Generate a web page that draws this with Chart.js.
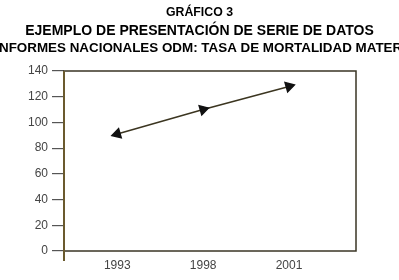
<!DOCTYPE html>
<html lang="es">
<head>
    <meta charset="UTF-8">
    <script src="https://cdn.jsdelivr.net/npm/chart.js"></script>
    <title>Gráfico 3</title>
    <style>
        body { margin: 0; background: #fff; }
    </style>
</head>
<body>
    <canvas id="myChart" width="399" height="280"></canvas>

    <script>
        // datos del gráfico
        const anios = ["1993", "1998", "2001"];
        const tasaMortalidad = [91, 110, 128];
        const ejeYMin = 0;
        const ejeYMax = 140;
        const ejeYPaso = 20;

        const titulo = [
            "GRÁFICO 3",
            "EJEMPLO DE PRESENTACIÓN DE SERIE DE DATOS",
            "INFORMES NACIONALES ODM: TASA DE MORTALIDAD MATERNA"
        ];

        // títulos dibujados sin ajustar el ancho (la última línea se corta como en el original)
        const titulos = {
            id: "titulos",
            afterDraw: function(chart) {
                const ctx = chart.ctx;
                const centro = chart.width / 2;
                const filas = [
                    { y: 13, size: 12.3 },
                    { y: 31, size: 14 },
                    { y: 48, size: 13.4 }
                ];
                ctx.save();
                ctx.fillStyle = "#000";
                ctx.textBaseline = "middle";
                titulo.forEach(function(t, i) {
                    ctx.font = "bold " + filas[i].size + "px 'Liberation Sans', Arial, sans-serif";
                    if (i === 2) {
                        // la primera letra queda fuera por la izquierda
                        ctx.textAlign = "left";
                        ctx.fillText(t, -ctx.measureText("I").width - 1, filas[i].y);
                    } else {
                        ctx.textAlign = "center";
                        ctx.fillText(t, centro, filas[i].y);
                    }
                });
                ctx.restore();
            }
        };

        // marco alrededor del área del gráfico
        const marco = {
            id: "marco",
            afterDraw: function(chart) {
                const a = chart.chartArea;
                const ctx = chart.ctx;
                ctx.save();
                ctx.strokeStyle = "#3a3524";
                ctx.lineWidth = 1.5;
                ctx.strokeRect(a.left, a.top, a.right - a.left, a.bottom - a.top);
                ctx.strokeStyle = "#6b5a2e";
                ctx.lineWidth = 2;
                ctx.beginPath();
                ctx.moveTo(a.left, a.top);
                ctx.lineTo(a.left, a.bottom + 10);
                ctx.stroke();
                ctx.restore();
            }
        };

        new Chart("myChart", {
            type: "line",
            data: {
                datasets: [{
                    data: tasaMortalidad.map(function(v, i) { return { x: i, y: v }; }),
                    borderColor: "#3b3520",
                    borderWidth: 1.5,
                    pointStyle: "triangle",
                    pointRadius: 5.5,
                    pointRotation: [-106, 74, 74],
                    pointBackgroundColor: "#111",
                    pointBorderColor: "#111",
                    tension: 0
                }]
            },
            options: {
                responsive: false,
                animation: false,
                layout: { padding: { left: 8, right: 43, top: 71, bottom: 0 } },
                plugins: {
                    legend: { display: false },
                    tooltip: { enabled: false },
                    title: { display: false }
                },
                scales: {
                    x: {
                        type: "linear",
                        min: -0.62,
                        max: 2.78,
                        afterBuildTicks: function(axis) {
                            axis.ticks = anios.map(function(_, i) { return { value: i }; });
                        },
                        afterFit: function(axis) { axis.height = 29; },
                        grid: { display: false, drawTicks: false },
                        border: { display: false },
                        ticks: {
                            padding: 7,
                            color: "#444",
                            font: { family: "Liberation Sans", size: 12 },
                            callback: function(v) { return anios[v]; }
                        }
                    },
                    y: {
                        min: ejeYMin,
                        max: ejeYMax,
                        afterFit: function(axis) { axis.width = 56; },
                        grid: {
                            drawOnChartArea: false,
                            tickLength: 12,
                            color: "#555",
                            lineWidth: 1.2
                        },
                        border: { display: false },
                        ticks: {
                            stepSize: ejeYPaso,
                            padding: 4,
                            color: "#444",
                            font: { family: "Liberation Sans", size: 12 }
                        }
                    }
                }
            },
            plugins: [marco, titulos]
        });
    </script>
</body>
</html>
